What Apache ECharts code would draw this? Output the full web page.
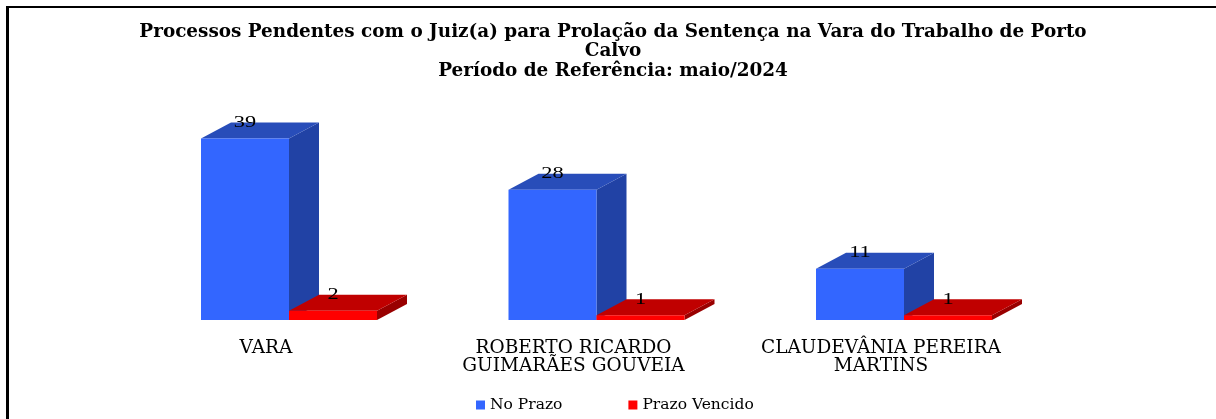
<!DOCTYPE html>
<html><head><meta charset="utf-8">
<style>html,body{margin:0;padding:0;background:#fff}#c{width:1216px;height:419px}</style>
<script src="https://cdn.jsdelivr.net/npm/echarts@6/dist/echarts.min.js"></script>
</head><body><div id="c"></div>
<script>
const categories = ['VARA', 'ROBERTO RICARDO\nGUIMARÃES GOUVEIA', 'CLAUDEVÂNIA PEREIRA\nMARTINS'];
const noPrazo = [39, 28, 11];
const prazoVencido = [2, 1, 1];
const titleLines = 'Processos Pendentes com o Juiz(a) para Prolação da Sentença na Vara do Trabalho de Porto\nCalvo\nPeríodo de Referência: maio/2024';

const DX = 30, DY = 16, BW = 88;
function bar3d(front, top, side, offset) {
  return function (params, api) {
    const cat = api.value(0), val = api.value(1);
    const p = api.coord([cat, val]), b = api.coord([cat, 0]);
    const x0 = p[0] + offset * BW, x1 = x0 + BW, y0 = p[1], y1 = b[1];
    return { type: 'group', children: [
      { type: 'polygon', shape: { points: [[x1, y0], [x1 + DX, y0 - DY], [x1 + DX, y1 - DY], [x1, y1]] }, style: { fill: side } },
      { type: 'polygon', shape: { points: [[x0, y0], [x0 + DX, y0 - DY], [x1 + DX, y0 - DY], [x1, y0]] }, style: { fill: top } },
      { type: 'rect', shape: { x: x0, y: y0, width: BW, height: y1 - y0 }, style: { fill: front } },
      { type: 'text', z2: 10, x: (x0 + x1) / 2, y: y0 - DY, scaleX: 1.4, style: { text: String(val), fill: '#000', font: '16px "Liberation Serif"', align: 'center', verticalAlign: 'middle' } }
    ] };
  };
}
const chart = echarts.init(document.getElementById('c'), null, { renderer: 'canvas' });
chart.setOption({
  animation: false,
  backgroundColor: '#fff',
  title: { text: titleLines, left: 613, top: 22, padding: 0, textAlign: 'center',
    textStyle: { fontFamily: 'DejaVu Serif', fontSize: 18.4, fontWeight: 'bold', color: '#000', lineHeight: 19.5 } },
  legend: { left: 476, top: 397, padding: 0, itemWidth: 9, itemHeight: 9, itemGap: 66, icon: 'rect',
    textStyle: { fontFamily: 'DejaVu Serif', fontSize: 15.5, color: '#000' },
    data: ['No Prazo', 'Prazo Vencido'] },
  grid: { left: 135.25, width: 922.5, top: 110.6, height: 209.4 },
  xAxis: { type: 'category', data: categories, axisLine: { show: false }, axisTick: { show: false },
    axisLabel: { interval: 0, margin: 19, color: '#000', fontFamily: 'DejaVu Serif', fontSize: 18.5, lineHeight: 18, padding: [0, 46, 0, 0] } },
  yAxis: { type: 'value', min: 0, max: 45, interval: 5, show: false },
  series: [
    { name: 'No Prazo', type: 'custom', itemStyle: { color: '#3366ff' }, encode: { x: 0, y: 1 },
      renderItem: bar3d('#3366ff', '#284db9', '#2142a5', -1),
      data: noPrazo.map((v, i) => [i, v]) },
    { name: 'Prazo Vencido', type: 'custom', itemStyle: { color: '#ff0000' }, encode: { x: 0, y: 1 },
      renderItem: bar3d('#ff0000', '#c00000', '#990000', 0),
      data: prazoVencido.map((v, i) => [i, v]) }
  ],
  graphic: [
    { type: 'rect', shape: { x: 6, y: 6, width: 1210, height: 2 }, style: { fill: '#000' } },
    { type: 'rect', shape: { x: 6, y: 6, width: 3, height: 413 }, style: { fill: '#000' } }
  ]
});
</script></body></html>
